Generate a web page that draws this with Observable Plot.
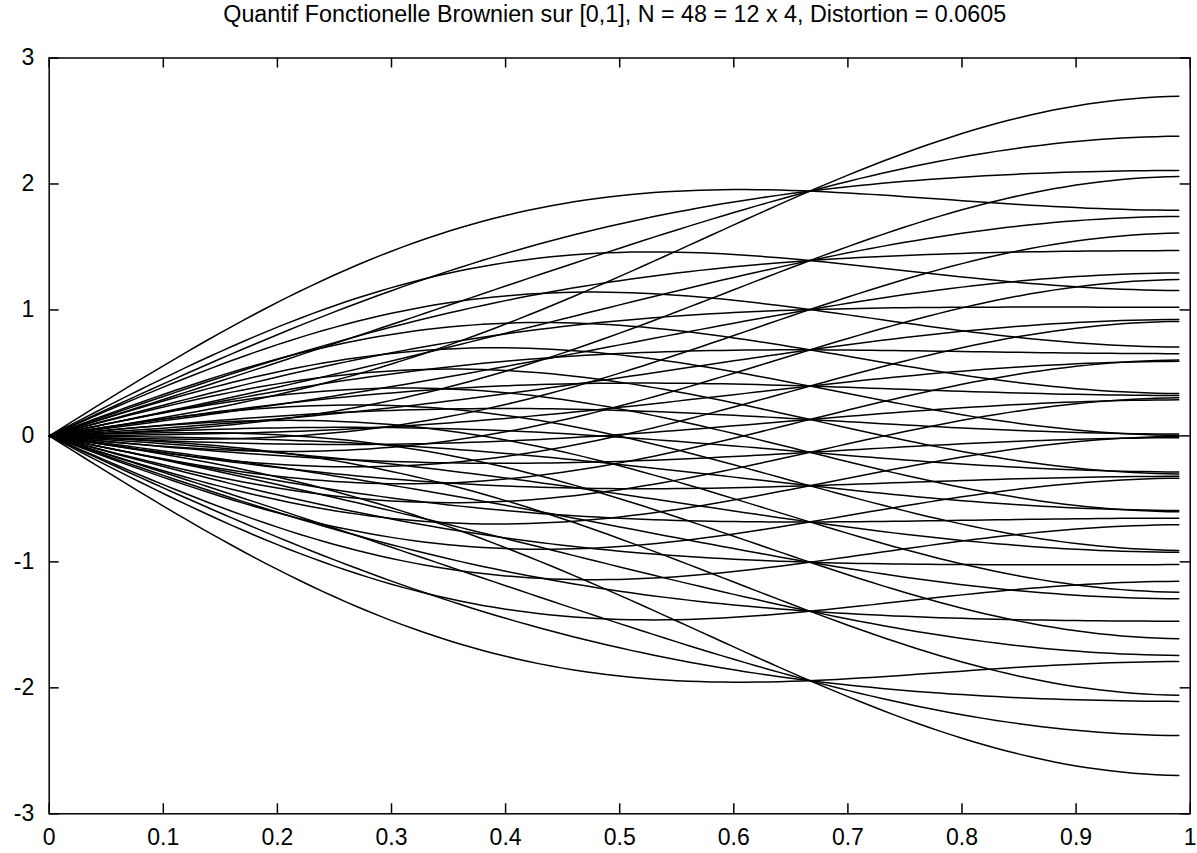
<!DOCTYPE html>
<html>
<head>
<meta charset="utf-8">
<script src="https://cdn.jsdelivr.net/npm/d3@7"></script>
<script src="https://cdn.jsdelivr.net/npm/@observablehq/plot@0.6"></script>
<style>
  html, body { margin: 0; padding: 0; background: #fff; }
</style>
</head>
<body>
<div id="chart"></div>
<script>
// Title
const titleText = "Quantif Fonctionelle Brownien sur [0,1], N = 48 = 12 x 4, Distortion = 0.0605";
// Quantizer levels (first KL coordinate: 12 levels, second: 4 levels)
const xi1Levels = [-2.492, -1.785, -1.286, -0.876, -0.507, -0.167, 0.167, 0.507, 0.876, 1.286, 1.785, 2.492];
const xi2Levels = [-1.510, -0.453, 0.453, 1.510];
// Time grid of the curves
const tStart = 0, tEnd = 0.99, tStep = 0.01;
// Axis ticks
const xTicks = [0, 0.1, 0.2, 0.3, 0.4, 0.5, 0.6, 0.7, 0.8, 0.9, 1];
const yTicks = [-3, -2, -1, 0, 1, 2, 3];

// Karhunen-Loève basis of Brownian motion on [0,1]
const klTerm = (k, t) => Math.SQRT2 / ((k - 0.5) * Math.PI) * Math.sin((k - 0.5) * Math.PI * t);

const tGrid = d3.range(Math.round((tEnd - tStart) / tStep) + 1).map(i => +(tStart + i * tStep).toFixed(4));
const rows = [];
let id = 0;
for (const a of xi1Levels) {
  for (const b of xi2Levels) {
    for (const t of tGrid) rows.push({id, t, y: a * klTerm(1, t) + b * klTerm(2, t)});
    id++;
  }
}

const W = 1197, H = 853;
const mL = 48.7, mR = 7.3, mT = 57.5, mB = 39.7;
const pw = W - mL - mR, ph = H - mT - mB;
const tick = 10;
const fontSize = 23;

const plot = Plot.plot({
  width: W,
  height: H,
  marginLeft: mL,
  marginRight: mR,
  marginTop: mT,
  marginBottom: mB,
  style: {fontFamily: "'Liberation Sans', Arial, sans-serif", fontSize: fontSize + "px", color: "#000", background: "#fff"},
  x: {domain: [0, 1]},
  y: {domain: [-3, 3]},
  marks: [
    Plot.lineY(rows, {x: "t", y: "y", z: "id", stroke: "#000", strokeWidth: 1.5, curve: "linear"}),
    // inward ticks on all four sides
    Plot.tickY(yTicks, {y: d => d, insetRight: pw - tick, stroke: "#000", strokeWidth: 1.5}),
    Plot.tickY(yTicks, {y: d => d, insetLeft: pw - tick, stroke: "#000", strokeWidth: 1.5}),
    Plot.tickX(xTicks, {x: d => d, insetTop: ph - tick, stroke: "#000", strokeWidth: 1.5}),
    Plot.tickX(xTicks, {x: d => d, insetBottom: ph - tick, stroke: "#000", strokeWidth: 1.5}),
    Plot.frame({stroke: "#000", strokeWidth: 1.5}),
    Plot.axisX(xTicks, {tickSize: 0, tickPadding: 15, tickFormat: d => String(d), fontSize: fontSize, label: null}),
    Plot.axisY(yTicks, {tickSize: 0, tickPadding: 15, tickFormat: d => String(d), fontSize: fontSize, label: null}),
    Plot.text([titleText], {frameAnchor: "top", lineAnchor: "bottom", dy: -36, dx: -5, fontSize: 23.3, text: d => d})
  ]
});
document.getElementById("chart").appendChild(plot);
</script>
</body>
</html>
